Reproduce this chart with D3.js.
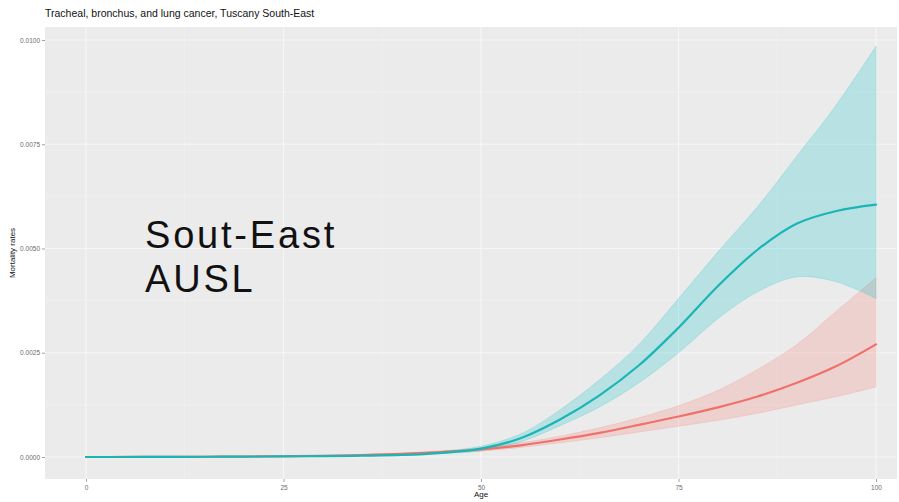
<!DOCTYPE html>
<html>
<head>
<meta charset="utf-8">
<script src="https://cdn.jsdelivr.net/npm/d3@7/dist/d3.min.js"></script>
<style>
  html, body { margin: 0; padding: 0; background: #ffffff; }
  svg { display: block; }
</style>
</head>
<body>
<svg id="chart" width="899" height="502"></svg>
<script>
// Age grid (years) shared by both series
const ages = [0, 5, 10, 15, 20, 25, 30, 35, 40, 45, 50, 55, 60, 65, 70, 75, 80, 85, 90, 95, 100];

// Series A (teal): fitted mortality rate with lower / upper bounds
const tealFit = [0, 0, 0.000003, 0.000006, 0.00001, 0.000015, 0.000022, 0.000032, 0.00005, 0.0001, 0.0002, 0.00045, 0.0009, 0.00148, 0.0022, 0.0031, 0.0041, 0.00497, 0.0056, 0.0059, 0.00605];
const tealLo  = [0, 0, 0.000002, 0.000004, 0.000007, 0.00001, 0.000016, 0.000024, 0.00004, 0.00008, 0.00015, 0.00036, 0.00075, 0.0012, 0.00178, 0.0025, 0.00332, 0.00396, 0.00432, 0.0042, 0.0038];
const tealHi  = [0, 0, 0.000005, 0.000009, 0.000014, 0.00002, 0.00003, 0.000042, 0.000065, 0.00013, 0.00026, 0.00055, 0.00113, 0.00185, 0.0027, 0.0038, 0.00492, 0.006, 0.00722, 0.00845, 0.00985];

// Series B (red): fitted mortality rate with lower / upper bounds
const redFit = [0, 0.000001, 0.000003, 0.000006, 0.00001, 0.000018, 0.00003, 0.000048, 0.000075, 0.00012, 0.00018, 0.00028, 0.00042, 0.00058, 0.00077, 0.00097, 0.00119, 0.00145, 0.00178, 0.00218, 0.0027];
const redLo  = [0, 0, 0.000002, 0.000004, 0.000007, 0.000013, 0.000022, 0.000036, 0.000058, 0.000095, 0.00014, 0.00023, 0.00034, 0.00046, 0.0006, 0.00074, 0.00088, 0.00105, 0.00125, 0.00145, 0.00168];
const redHi  = [0, 0.000002, 0.000005, 0.000009, 0.000014, 0.000024, 0.00004, 0.00006, 0.000095, 0.00015, 0.00022, 0.00034, 0.0005, 0.0007, 0.00094, 0.00123, 0.0016, 0.0021, 0.0027, 0.0035, 0.0043];

// Axis ticks
const xTicks = [0, 25, 50, 75, 100];
const xMinor = [12.5, 37.5, 62.5, 87.5];
const yTicks = [0, 0.0025, 0.005, 0.0075, 0.01];
const yMinor = [0.00125, 0.00375, 0.00625, 0.00875];

const titleText = "Tracheal, bronchus, and lung cancer, Tuscany South-East";
const xTitle = "Age";
const yTitle = "Mortality rates";
const noteLines = ["Sout-East", "AUSL"];

const svg = d3.select("#chart");
const panel = { left: 45, top: 27, right: 897, bottom: 479 };

const x = d3.scaleLinear().domain([0, 100]).range([86, 876]);
const y = d3.scaleLinear().domain([0, 0.01]).range([457, 40]);

const font = "'Liberation Sans', Arial, sans-serif";

// Panel background
svg.append("rect")
  .attr("x", panel.left).attr("y", panel.top)
  .attr("width", panel.right - panel.left).attr("height", panel.bottom - panel.top)
  .attr("fill", "#ebebeb");

// Grid lines (soft white)
const grid = svg.append("g");
grid.selectAll(".vminor").data(xMinor).join("line")
  .attr("x1", d => x(d)).attr("x2", d => x(d))
  .attr("y1", panel.top).attr("y2", panel.bottom)
  .attr("stroke", "#f1f1f1").attr("stroke-width", 0.7);
grid.selectAll(".hminor").data(yMinor).join("line")
  .attr("y1", d => y(d)).attr("y2", d => y(d))
  .attr("x1", panel.left).attr("x2", panel.right)
  .attr("stroke", "#f1f1f1").attr("stroke-width", 0.7);
grid.selectAll(".vmajor").data(xTicks).join("line")
  .attr("x1", d => x(d)).attr("x2", d => x(d))
  .attr("y1", panel.top).attr("y2", panel.bottom)
  .attr("stroke", "#f6f6f6").attr("stroke-width", 1.2);
grid.selectAll(".hmajor").data(yTicks).join("line")
  .attr("y1", d => y(d)).attr("y2", d => y(d))
  .attr("x1", panel.left).attr("x2", panel.right)
  .attr("stroke", "#f6f6f6").attr("stroke-width", 1.2);

// Ribbons and fitted lines
const series = [
  { fit: redFit, lo: redLo, hi: redHi, fill: "#F8766D", line: "#F0706A" },
  { fit: tealFit, lo: tealLo, hi: tealHi, fill: "#00BFC4", line: "#1AB5B5" }
];

const curve = d3.curveCatmullRom.alpha(0.5);
const area = d3.area()
  .x(d => x(d.age)).y0(d => y(d.lo)).y1(d => y(d.hi))
  .curve(curve);
const line = d3.line()
  .x(d => x(d.age)).y(d => y(d.fit))
  .curve(curve);

const rowsOf = s => ages.map((a, i) => ({ age: a, fit: s.fit[i], lo: s.lo[i], hi: s.hi[i] }));

series.forEach(s => {
  svg.append("path").datum(rowsOf(s))
    .attr("d", area)
    .attr("fill", s.fill).attr("fill-opacity", 0.22)
    .attr("stroke", s.fill).attr("stroke-opacity", 0.25).attr("stroke-width", 0.8);
});
series.forEach(s => {
  svg.append("path").datum(rowsOf(s))
    .attr("d", line)
    .attr("fill", "none").attr("stroke", s.line).attr("stroke-width", 2.2)
    .attr("stroke-linecap", "round");
});

// Axes
const xAxis = d3.axisBottom(x).tickValues(xTicks).tickFormat(d3.format("d")).tickSize(3).tickPadding(3);
const yAxis = d3.axisLeft(y).tickValues(yTicks).tickFormat(d3.format(".4f")).tickSize(3).tickPadding(2);

const gx = svg.append("g").attr("transform", `translate(0,${panel.bottom})`).call(xAxis);
const gy = svg.append("g").attr("transform", `translate(${panel.left},0)`).call(yAxis);
[gx, gy].forEach(g => {
  g.select(".domain").remove();
  g.selectAll(".tick line").attr("stroke", "#666").attr("stroke-width", 0.6);
  g.selectAll(".tick text").attr("fill", "#6a6a6a").attr("font-size", 6.5).attr("font-family", font);
});

// Titles
svg.append("text")
  .attr("x", panel.left).attr("y", 17)
  .attr("font-family", font).attr("font-size", 10.5).attr("fill", "#111")
  .text(titleText);

svg.append("text")
  .attr("x", x(50)).attr("y", 497)
  .attr("text-anchor", "middle")
  .attr("font-family", font).attr("font-size", 8).attr("fill", "#111")
  .text(xTitle);

svg.append("text")
  .attr("transform", `translate(15,${(panel.top + panel.bottom) / 2}) rotate(-90)`)
  .attr("text-anchor", "middle")
  .attr("font-family", font).attr("font-size", 8).attr("fill", "#111")
  .text(yTitle);

// Region annotation
svg.append("text")
  .attr("x", 145).attr("y", 248)
  .attr("font-family", font).attr("font-size", 38).attr("fill", "#111")
  .attr("letter-spacing", 2.8)
  .selectAll("tspan").data(noteLines).join("tspan")
  .attr("x", 145).attr("dy", (d, i) => i === 0 ? 0 : 44)
  .text(d => d);
</script>
</body>
</html>
